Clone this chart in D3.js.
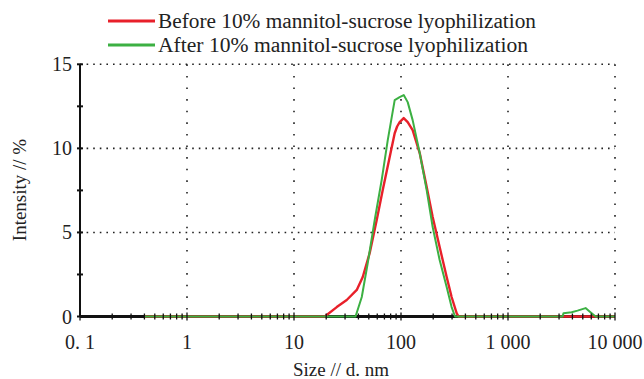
<!DOCTYPE html>
<html><head><meta charset="utf-8">
<script src="https://cdn.jsdelivr.net/npm/d3@7"></script>
<style>body{margin:0;background:#fff;}svg{display:block;}</style>
</head><body><svg id="c" width="644" height="379"></svg>
<script>
const seriesNames = ["Before 10% mannitol-sucrose lyophilization", "After 10% mannitol-sucrose lyophilization"];
const seriesColors = ["#e8202a", "#3cb043"];
const redSizes = [0.4, 19.4, 25.1, 31.1, 38.6, 43.9, 51.0, 59.3, 67.5, 78.4, 87.3, 92, 97.2, 106, 115.5, 128.5, 149.6, 173.8, 197.7, 229.7, 267.2, 297.2, 331, 345, 10000];
const redValues = [0, 0, 0.56, 0.98, 1.58, 2.35, 3.78, 5.74, 7.52, 9.48, 10.9, 11.3, 11.56, 11.8, 11.56, 11.09, 9.72, 7.70, 5.92, 4.13, 2.35, 1.16, 0.2, 0, 0];
const greenSizes = [0.4, 37.6, 43.0, 48.9, 56.8, 66.0, 75.2, 87.3, 97.2, 106, 115.5, 128.5, 149.6, 173.8, 197.7, 229.7, 267.2, 297.2, 320, 3236, 3300, 3926, 4467, 5309, 5785, 6295, 6577, 10000];
const greenValues = [0, 0, 1.16, 3.18, 5.74, 8.12, 10.49, 12.87, 13.05, 13.17, 12.75, 11.68, 9.72, 7.52, 5.32, 3.36, 1.75, 0.56, 0, 0, 0.2, 0.25, 0.35, 0.5, 0.3, 0.1, 0, 0];
const xMajorTicks = [0.1, 1, 10, 100, 1000, 10000];
const xTickLabels = ["0. 1", "1", "10", "100", "1 000", "10 000"];
const yTicks = [0, 5, 10, 15];
const yMinorTicks = [0, 2.5, 5, 7.5, 10, 12.5, 15];
const xTitle = "Size // d. nm";
const yTitle = "Intensity // %";

const svg = d3.select("#c");
const x = d3.scaleLog().domain([0.1, 10000]).range([80, 615]);
const y = d3.scaleLinear().domain([0, 15]).range([316.5, 64.3]);
const font = "'Liberation Serif', 'DejaVu Serif', serif";

// grid
svg.append("g").selectAll("line").data(yTicks.filter(d => d > 0)).join("line")
  .attr("x1", x(0.1)).attr("x2", x(10000)).attr("y1", d => y(d)).attr("y2", d => y(d))
  .attr("stroke", "#222").attr("stroke-width", 1.6).attr("stroke-dasharray", "1.6,5");
svg.append("g").selectAll("line").data(xMajorTicks.filter(d => d > 0.1)).join("line")
  .attr("x1", d => x(d)).attr("x2", d => x(d)).attr("y1", y(15)).attr("y2", y(0))
  .attr("stroke", "#222").attr("stroke-width", 1.6).attr("stroke-dasharray", "1.6,10");

// axes lines
svg.append("line").attr("x1", x(0.1)).attr("x2", x(10000)).attr("y1", y(0)).attr("y2", y(0))
  .attr("stroke", "#111").attr("stroke-width", 3);
svg.append("line").attr("x1", x(0.1)).attr("x2", x(0.1)).attr("y1", y(15)).attr("y2", y(0))
  .attr("stroke", "#111").attr("stroke-width", 2);

// series
const line = d3.line().x(d => x(d[0])).y(d => y(d[1]));
const redData = redSizes.map((s, i) => [s, redValues[i]]);
const greenData = greenSizes.map((s, i) => [s, greenValues[i]]);
[redData, greenData].forEach((data, i) => {
  svg.append("path").datum(data).attr("d", line).attr("fill", "none")
    .attr("stroke", seriesColors[i]).attr("stroke-width", i === 0 ? 2.4 : 2).attr("stroke-linejoin", "round");
});

// x ticks (minor + major)
const minor = [];
for (let e = -1; e < 4; e++) for (let m = 1; m <= 9; m++) minor.push(m * Math.pow(10, e));
minor.push(10000);
svg.append("g").selectAll("line").data(minor).join("line")
  .attr("x1", d => x(d)).attr("x2", d => x(d))
  .attr("y1", d => y(0) - (xMajorTicks.includes(d) ? 4 : 3)).attr("y2", d => y(0) + (xMajorTicks.includes(d) ? 4 : 3))
  .attr("stroke", "#111").attr("stroke-width", 1.3);
// y ticks
svg.append("g").selectAll("line").data(yMinorTicks).join("line")
  .attr("x1", d => x(0.1) - 3).attr("x2", d => x(0.1) + 3).attr("y1", d => y(d)).attr("y2", d => y(d))
  .attr("stroke", "#111").attr("stroke-width", 2);

// tick labels
svg.append("g").selectAll("text").data(yTicks).join("text")
  .attr("x", 72).attr("y", d => y(d) + 7).attr("text-anchor", "end")
  .attr("font-family", font).attr("font-size", 20).attr("fill", "#222").text(d => d);
svg.append("g").selectAll("text").data(xMajorTicks).join("text")
  .attr("x", d => x(d)).attr("y", 349).attr("text-anchor", "middle")
  .attr("font-family", font).attr("font-size", 20).attr("fill", "#222").text((d, i) => xTickLabels[i]);

// titles
svg.append("text").attr("x", 341).attr("y", 376).attr("text-anchor", "middle")
  .attr("font-family", font).attr("font-size", 19).attr("fill", "#222").text(xTitle);
svg.append("text").attr("transform", "translate(26,190) rotate(-90)").attr("text-anchor", "middle")
  .attr("font-family", font).attr("font-size", 19).attr("fill", "#222").text(yTitle);

// legend
const legendY = [21, 45];
const legendLen = [378, 370];
seriesNames.forEach((n, i) => {
  svg.append("line").attr("x1", 108).attr("x2", 155).attr("y1", legendY[i]).attr("y2", legendY[i])
    .attr("stroke", seriesColors[i]).attr("stroke-width", 3);
  svg.append("text").attr("x", 158).attr("y", legendY[i] + 7)
    .attr("font-family", font).attr("font-size", 20).attr("fill", "#222")
    .attr("textLength", legendLen[i]).attr("lengthAdjust", "spacingAndGlyphs").text(n);
});
</script></body></html>
